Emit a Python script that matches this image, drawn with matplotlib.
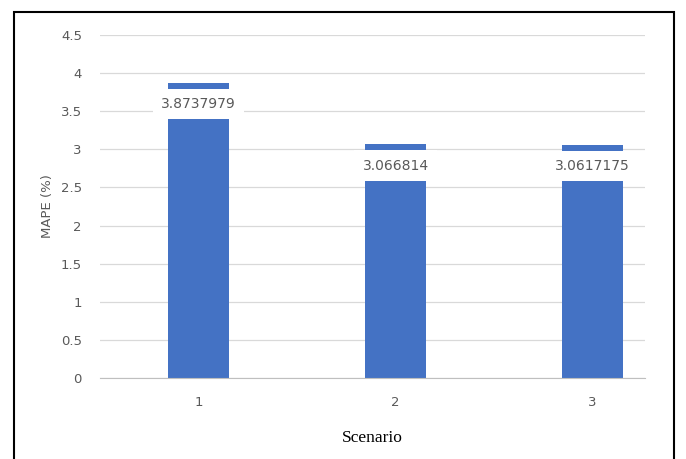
import matplotlib
matplotlib.use('Agg')
import matplotlib.pyplot as plt
from matplotlib.patches import Rectangle

# ── Data ─────────────────────────────────────────────────────────────────────
scenarios = ["1", "2", "3"]
mape = [3.8737979, 3.066814, 3.0617175]
labels = ["3.8737979", "3.066814", "3.0617175"]
yticks = [0, 0.5, 1, 1.5, 2, 2.5, 3, 3.5, 4, 4.5]

BAR = "#4472C4"
GRID = "#d9d9d9"
TXT = "#595959"

fig = plt.figure(figsize=(6.86, 4.59), dpi=100)
ax = fig.add_axes([0.1458, 0.1765, 0.794, 0.7472])

x = range(len(scenarios))
ax.bar(x, mape, width=0.31, color=BAR, zorder=2)

# value labels sit inside the bar top on a white box
for i, (v, s) in enumerate(zip(mape, labels)):
    ax.text(i, v - 0.28, s, ha='center', va='center', fontsize=10, color=TXT,
            zorder=3, bbox=dict(facecolor='white', edgecolor='none', pad=6))

ax.set_ylim(0, 4.5)
ax.set_xlim(-0.5, 2.264)
ax.set_yticks(yticks)
ax.set_yticklabels([f"{t:g}" for t in yticks])
ax.set_xticks(list(x))
ax.set_xticklabels(scenarios)
ax.tick_params(length=0, colors=TXT, labelsize=9.5)
ax.tick_params(axis='y', pad=13)
ax.tick_params(axis='x', pad=13)
ax.yaxis.grid(True, color=GRID, linewidth=0.9, zorder=0)
ax.set_axisbelow(True)
for side in ['top', 'right', 'left']:
    ax.spines[side].set_visible(False)
ax.spines['bottom'].set_color("#bfbfbf")

ax.set_ylabel("MAPE (%)", fontsize=9.5, color=TXT, labelpad=5)
ax.set_xlabel("Scenario", fontsize=12.5, family='Liberation Serif', color='black', labelpad=15)

# outer frame of the picture
fig.patches.append(Rectangle((14 / 686, -0.05), (674 - 14) / 686, 1 - 12 / 459 + 0.05,
                             transform=fig.transFigure, fill=False, edgecolor='black',
                             linewidth=1.5))

plt.savefig('out.png', dpi=100)
plt.close()
